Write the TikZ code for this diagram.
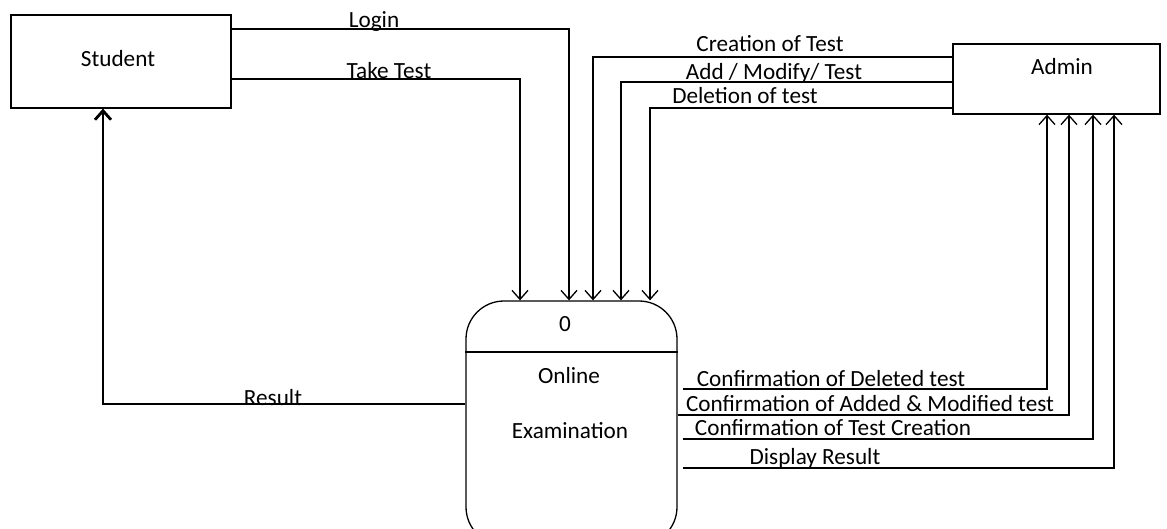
\documentclass[tikz,border=0pt]{standalone}
\usepackage{fontspec}
\setmainfont{Carlito}
\usetikzlibrary{arrows.meta}

\begin{document}
\begin{tikzpicture}[x=0.5pt,y=-0.5pt,line width=0.65pt,
    >={Straight Barb[length=4.5pt,width=8pt]},
    font=\fontsize{11.6}{13}\selectfont,
    entity/.style={draw,inner sep=0pt},
    txt/.style={anchor=base,inner sep=0pt}]
    \useasboundingbox (0,0) rectangle (1167,529);

    % External entities and process
    \node[entity,minimum width=110pt,minimum height=46.5pt] (student) at (121,61.5) {};
    \node[txt] (studenttxt) at (118,67) {Student};
    \node[entity,minimum width=103.5pt,minimum height=35pt] (admin) at (1056.5,79) {};
    \node[txt] (admintxt) at (1062,75) {Admin};
    \node[draw,rounded corners=19pt,minimum width=105.5pt,minimum height=122pt] (proc) at (571.5,423) {};
    \coordinate (dv) at (0,352);
    \draw (proc.west |- dv) -- (proc.east |- dv);
    \node[txt] (procnum) at (565,331) {0};
    \node[txt] (proctxt1) at (569,383) {Online};
    \node[txt] (proctxt2) at (570,438) {Examination};

    % Student to process
    \coordinate (lg) at (569,29);
    \coordinate (tt) at (520,79);
    \draw[->] (student.east |- lg) -| (proc.north -| lg);
    \draw[->] (student.east |- tt) -| (proc.north -| tt);
    \node[txt] (login) at (374,28) {Login};
    \node[txt] (take) at (389,79) {Take Test};

    % Admin to process
    \coordinate (cr) at (593,57);
    \coordinate (am) at (621,82);
    \coordinate (dl) at (650,108);
    \draw[->] (admin.west |- cr) -| (proc.north -| cr);
    \draw[->] (admin.west |- am) -| (proc.north -| am);
    \draw[->] (admin.west |- dl) -| (proc.north -| dl);
    \node[txt] (creation) at (770,52) {Creation of Test};
    \node[txt] (addmod) at (774,80) {Add / Modify/ Test};
    \node[txt] (deletion) at (745,104) {Deletion of test};

    % Process to admin
    \coordinate (cd) at (1047,389);
    \coordinate (ca) at (1069,415);
    \coordinate (cc) at (1093,439);
    \coordinate (dr) at (1114,468);
    \draw[->] ([xshift=2.5pt]proc.east |- cd) -| (admin.south -| cd);
    \draw[->] (proc.east |- ca) -| (admin.south -| ca);
    \draw[->] ([xshift=2.5pt]proc.east |- cc) -| (admin.south -| cc);
    \draw[->] ([xshift=2.5pt]proc.east |- dr) -| (admin.south -| dr);
    \node[txt] (confdel) at (831,386) {Confirmation of Deleted test};
    \node[txt] (confadd) at (870,411) {Confirmation of Added \& Modified test};
    \node[txt] (confcre) at (833,435) {Confirmation of Test Creation};
    \node[txt] (disp) at (815,464) {Display Result};

    % Process to student
    \coordinate (rs) at (103,404);
    \coordinate (rt) at (103,381);
    \draw (proc.west |- rs) -- (rs) -- (rt);
    \draw[->,line width=1.4pt] (rt) -- (student.south -| rt);
    \node[txt] (result) at (273,405) {Result};
\end{tikzpicture}
\end{document}
